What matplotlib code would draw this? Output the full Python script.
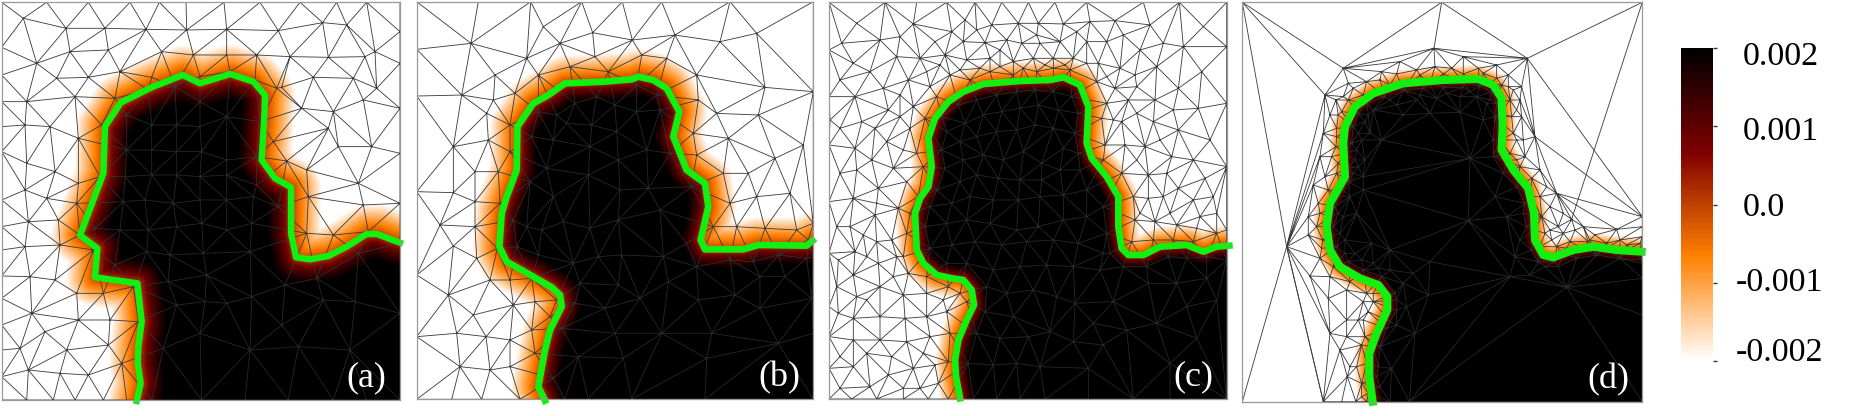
"""
  Four mesh panels with a level set field, contour and shared colour bar.
"""

import numpy as np
import matplotlib
matplotlib.use('Agg')
from matplotlib import pyplot as plt
from matplotlib import cm
from matplotlib.colors import LinearSegmentedColormap, Normalize
from matplotlib.path import Path
import matplotlib.tri as mtri

FIG_W = 1866
FIG_H = 416

CONTOUR_A = [(410,1203),(422,1150),(413,1090),(415,1040),(425,965),(412,850),(285,832),(292,745),(240,706),
             (295,560),(310,520),(315,380),(362,308),(455,262),(548,225),(600,250),(690,222),(760,245),
             (795,285),(793,350),(785,480),(825,535),(873,562),(873,700),(888,772),(930,778),(985,768),
             (1040,740),(1100,702),(1130,702),(1200,728)]
CONTOUR_B = [(405,1202),(385,1160),(405,1050),(420,990),(455,920),(450,885),(425,862),(370,830),(320,802),
             (290,785),(268,740),(275,640),(290,590),(320,510),(322,380),(370,310),(415,285),(465,250),
             (580,245),(665,238),(685,230),(730,240),(770,265),(808,335),(790,410),(830,510),(885,550),
             (895,620),(872,720),(885,748),(1000,748),(1045,735),(1190,737),(1208,722)]
CONTOUR_C = [(420,1195),(408,1130),(405,1080),(415,1020),(440,960),(462,915),(455,870),(430,840),(395,835),
             (350,825),(310,790),(290,750),(285,640),(300,595),(325,560),(335,500),(325,415),(345,355),
             (385,305),(430,275),(490,252),(600,243),(690,240),(730,232),(780,255),(805,320),(800,430),
             (815,475),(860,530),(895,590),(895,680),(905,745),(925,765),(970,765),(1020,740),(1100,735),
             (1150,755),(1190,740),(1228,737)]
CONTOUR_D = [(428,1205),(418,1130),(418,1060),(440,1000),(472,930),(472,890),(445,855),(390,835),(330,800),
             (300,750),(290,680),(300,610),(345,530),(340,430),(345,380),(375,320),(430,280),(520,250),
             (640,240),(745,237),(790,255),(815,295),(818,380),(815,450),(850,510),(895,565),(912,640),
             (915,720),(940,765),(970,772),(1030,750),(1090,740),(1160,750),(1235,755)]

NODES_A = [(5,7),(140,7),(265,7),(390,7),(478,7),(558,7),(672,7),(780,7),(900,7),(1010,7),(1100,7),(1200,7),
           (5,142),(5,225),(5,305),(5,380),(5,455),(5,600),(5,680),(5,750),(5,828),(5,895),(5,975),(5,1050),
           (5,1130),(5,1200),(1200,95),(1200,190),(1200,325),(1200,460),(1200,610),(1200,730),(1200,940),
           (1200,1200),(80,1200),(160,1200),(225,1200),(310,1200),(380,1200),(455,1200),(605,1200),(735,1200),
           (865,1200),(1000,1200),(1100,1200),
           (70,55),(198,85),(315,85),(438,88),(560,90),(680,88),(835,92),(968,68),(1040,75),(1125,155),
           (110,190),(210,155),(325,150),(485,155),(580,165),(680,165),(770,165),(870,170),(985,172),(1095,170),
           (170,235),(265,232),(360,215),(455,232),(600,230),(690,215),(765,240),(845,262),(940,232),(1060,235),
           (80,305),(225,290),(345,295),(445,270),(525,260),(830,265),(905,325),(1000,335),(1090,300),(1130,265),
           (1015,440),(985,385),(1115,440),(860,483),(820,425),(920,510),(1075,550),(925,590),(1090,615),
           (1000,705),(920,700),(1105,695),(75,375),(150,380),(235,415),(305,375),(80,490),(165,515),
           (235,550),(300,530),(140,595),(230,610),(75,570),(85,665),(175,660),(285,685),(75,740),(180,735),
           (240,705),(90,830),(165,840),(230,880),(280,750),(345,795),(440,755),(310,880),(400,860),(95,940),
           (135,995),(235,960),(330,960),(415,965),(60,1045),(200,1050),(325,1035),(85,1110),(180,1120),
           (265,1125),(365,1090),(380,345),(455,375),(530,375),(600,380),(680,350),(600,305),(780,365),
           (380,450),(455,450),(530,455),(605,455),(680,480),(770,470),(375,530),(455,525),(530,525),(600,530),
           (680,525),(770,555),(370,605),(435,600),(520,610),(600,600),(680,600),(760,590),(835,620),(360,690),
           (445,690),(530,680),(605,670),(680,690),(755,670),(505,845),(610,760),(750,755),(855,855),(950,835),
           (1075,760),(530,915),(615,905),(680,910),(755,890),(970,900),(1065,905),(845,975),(600,1000),
           (490,1045),(750,1050),(895,1040),(1050,1050),(510,765),(620,825)]

NODES_B = [(20,5),(205,5),(362,5),(515,5),(637,5),(755,5),(960,5),(1210,5),
           (20,148),(20,288),(20,575),(20,825),(20,1010),(20,1198),(1210,275),(1210,670),(1210,770),(1210,1000),
           (1210,1198),(125,1198),(215,1198),(330,1198),(465,1198),(535,1198),(665,1198),(885,1198),
           (183,130),(400,80),(548,98),(667,120),(795,105),(930,125),(1040,100),(350,175),(450,130),(555,170),
           (480,200),(595,215),(695,165),(770,175),(860,225),(1065,262),(255,225),(155,285),(315,280),(385,225),
           (250,300),(230,340),(300,375),(130,440),(235,420),(385,335),(440,345),(495,310),(560,290),(615,315),
           (680,255),(740,285),(750,330),(680,335),(620,395),(545,375),(470,370),(865,300),(920,340),
           (850,400),(955,415),(1095,475),(1045,345),(1180,435),(860,465),(940,520),(1015,520),(1140,580),(1040,590),
           (960,610),(910,680),(980,680),(1065,685),(1160,690),(1195,720),(300,455),(265,515),(195,515),(130,578),
           (195,605),(270,610),(90,675),(195,680),(130,738),(200,775),(262,745),(240,840),(300,840),(115,885),
           (365,835),(190,945),(310,915),(375,905),(440,900),(140,1000),(228,1010),(300,1020),(365,990),(420,950),
           (150,1100),(300,1100),(375,1060),(240,1110),(365,410),(430,420),(540,440),(625,480),(710,450),(780,460),
           (410,505),(535,525),(630,570),(715,565),(845,560),(360,545),(430,590),(310,660),(395,690),(460,665),
           (540,685),(625,660),(750,630),(830,730),(350,680),(320,740),(385,765),(490,790),(565,770),(635,765),
           (760,770),(860,800),(960,780),(1030,785),(1105,765),(1190,775),(510,850),(625,855),(775,845),(865,900),
           (975,885),(1050,830),(1125,830),(1205,895),(495,910),(585,925),(690,895),(1050,925),(455,985),(615,1000),
           (755,1000),(905,1000),(1105,1030),(505,1070),(890,1075),(430,1135),(640,1075)]

NODES_C = [(27,7),(195,7),(290,7),(380,7),(465,7),(545,7),(625,7),(705,7),(800,7),(970,7),(1078,7),(1220,7),
           (27,150),(27,290),(27,435),(27,605),(27,760),(27,920),(27,1010),(27,1105),(27,1197),
           (1220,140),(1220,310),(1220,500),(1220,690),(1220,780),(1220,1197),
           (95,1197),(170,1197),(250,1197),(325,1197),(385,1197),(460,1197),(530,1197),(600,1197),(675,1197),
           (805,1197),(940,1197),(1050,1197),
           (110,70),(280,72),(435,60),(515,75),(595,70),(655,70),(730,72),(810,65),(885,62),(990,75),(1090,140),
           (180,120),(345,125),(430,125),(495,128),(560,120),(605,130),(660,130),(720,125),(800,125),(860,125),(960,150),
           (100,190),(230,170),(300,175),(375,165),(440,180),(510,175),(580,185),(640,175),(700,175),(760,175),(835,190),
           (910,105),(900,205),(1010,200),(1145,215),(105,290),(190,265),(265,240),(330,260),(390,225),(450,240),
           (510,215),(580,225),(650,215),(700,205),(750,210),(800,190),(830,245),(885,265),(945,225),(1075,265),
           (30,360),(125,365),(205,330),(280,320),(350,290),(860,310),(925,300),(1005,300),(1135,325),
           (105,445),(200,425),(270,385),(315,355),(845,355),(905,365),(1000,365),(1075,390),(1170,420),
           (110,510),(220,505),(290,460),(310,500),(855,435),(915,435),(975,440),(1055,470),(1155,535),
           (100,595),(175,565),(260,545),(295,590),(850,480),(905,520),(985,525),(1075,565),(1180,590),
           (90,680),(165,645),(235,625),(270,640),(940,590),(985,595),(1050,640),(1140,650),(105,755),(170,725),
           (215,720),(260,700),(945,660),(1005,665),(1070,675),(1130,685),(1190,700),(100,825),(175,790),(250,770),
           (935,725),(1000,720),(1060,720),(1120,725),(110,890),(180,860),(265,820),(320,830),(50,860),
           (100,955),(180,950),(250,885),(320,880),(385,860),(420,880),(180,1020),(255,955),(320,950),(380,935),
           (440,905),(100,1020),(260,1025),(330,1010),(390,1000),(100,1100),(205,1125),(280,1105),(345,1095),
           (385,1085),(60,1165),(150,1160),(355,1150),
           (365,350),(415,315),(470,300),(530,285),(590,275),(645,270),(700,275),(755,290),(775,340),
           (380,395),(435,370),(490,345),(545,335),(600,325),(655,315),(715,330),(765,400),
           (365,450),(420,425),(470,410),(530,395),(590,390),(645,375),(700,385),(775,460),
           (375,505),(430,480),(490,465),(550,480),(610,455),(665,490),(730,445),(780,510),
           (350,570),(420,545),(470,525),(535,535),(600,540),(665,540),(720,510),(800,570),
           (330,620),(395,610),(450,590),(520,600),(595,600),(660,590),(730,585),(850,620),
           (315,680),(380,670),(440,660),(510,670),(590,690),(655,680),(730,660),(800,650),(860,700),
           (330,745),(395,735),(465,725),(545,735),(620,725),(700,720),(775,730),(850,760),
           (380,790),(440,790),(520,810),(600,800),(680,795),(760,800),(840,810),(910,800),(980,800),(1100,775),
           (500,860),(560,880),(640,870),(710,890),(765,910),(880,905),(985,850),(1070,850),(1160,835),
           (495,935),(580,950),(690,995),(625,1010),(820,970),(920,990),(1010,970),(1100,920),(1190,900),
           (470,1000),(540,1015),(760,1025),(850,1035),(1130,1015),(445,1090),(520,1095),(590,1090),(805,1105),
           (660,1100),(1050,1090),
           (65,130),(150,215),(60,240),(240,110),(395,95),(470,90),(540,150),(650,105),(770,95),(1030,130),(1150,80),
           (320,215),(360,195),(420,210),(480,205),(540,200),(610,205),(675,195),(735,195),(860,230),(950,260),
           (240,285),(165,385),(240,350),(60,385),(60,520),(155,480),(250,450),(170,610),(50,680),(130,705),
           (55,780),(140,770),(230,770),(55,940),(140,900),(220,830),(140,1060),(60,1070),(215,1070),(310,1060),
           (370,900),(250,1165),(300,1165),(880,360),(950,340),(1060,330),(950,480),(1020,420),(1120,480),(1040,520),
           (1120,600),(960,640),(1030,590),(1190,640),(870,760),(1045,770),(1160,770)]

NODES_D = [(280,1205),(335,1205),(378,1205),(410,1205),(480,1205),(538,1205),
           (1237,1205),(1237,650),(1237,680),(1237,710),(1237,790),(1237,835),(1237,945),
           (612,145),(892,175),(340,205),(285,285),(1025,658),(170,740),(240,828),(295,895),(352,1130),
           (510,185),(700,170),(800,195),(615,200),(410,245),(355,250),(455,215),(560,210),(665,205),(745,205),
           (835,225),(875,260),(915,410),(980,580),(1160,688),(1095,705),(1170,720),(1230,730),(1080,720),
           (318,300),(300,345),(280,400),(270,470),(250,555),(235,650),(235,705),(270,775),(300,830),
           (350,870),(400,905),(350,960),(300,1000),(350,1010),(385,960),(395,1035),(380,1100),(395,1150),
           (340,290),(325,345),(320,410),(305,470),(285,530),(265,610),(260,680),(275,745),(310,800),
           (360,845),(410,880),(430,905),(415,935),(430,880),(400,960),(405,1010),
           (370,265),(355,300),(335,335),(320,385),(318,440),(325,490),(320,520),(295,570),(270,640),(278,720),
           (450,240),(500,222),(570,225),(640,222),(700,222),(760,220),(800,235),(835,260),(840,300),(845,350),
           (850,400),(840,460),(870,500),(905,535),(930,590),(935,650),(945,700),(980,740),(1020,725),(1075,725),
           (1130,730),(1190,735),(960,690),(985,680),(965,720),(1000,700),(1035,690),
           (870,300),(875,350),(880,420),(885,470),(930,510),(950,560),(960,620),(1000,640),(1060,680),
           (410,310),(385,340),(370,380),(365,430),(375,480),(370,520),(340,570),(315,620),(310,680),(320,740),
           (355,785),(400,810),(455,830),(495,880),(500,930),(470,985),(450,1040),(445,1100),(450,1160),
           (465,290),(520,270),(580,265),(640,262),(700,262),(750,258),(785,275),(800,310),(795,350),(790,420),
           (790,470),(820,520),(860,560),(885,610),(890,680),(905,750),(945,800),(985,800),(1040,775),(1100,765),
           (1170,775),(1235,780),(430,330),(405,365),(395,420),(405,480),(400,530),(360,590),(340,650),(345,720),
           (375,760),(430,790),(480,810),(520,850),(530,920),(500,975),(555,1000),(485,1105),
           (500,315),(560,300),(620,295),(690,290),(740,290),(770,310),(760,360),(690,337),(600,340),(520,345),
           (420,400),(455,420),(400,570),(380,640),(425,730),(720,475),(795,590),(715,662),(840,830),(830,650),
           (870,720),(855,770),(900,825),(1010,862),(600,785),(550,820),(595,885),(480,750),(410,1090),
           (345,460),(350,505),(325,590),(300,650),(345,760),(395,780),(445,805),(500,900),(480,965),(430,1040),
           (440,1130),(415,1180),(395,1190),(360,1100),(330,1050),(815,255),(780,250),(700,245),(600,250),(480,255),
           (400,285),(850,270),(860,330),(860,420),(860,480),(905,590),(915,690),(930,740),(1000,760),(1060,745),
           (1130,745),(1200,745),(1010,745),(975,785),(925,785),(880,640),(830,480),(810,420),(810,340),(780,300),
           (720,275),(650,280),(570,285),(480,300),(415,345),(385,400),(380,450),(385,500),(355,545),(325,640),(330,700)]

OUTER_EDGES_D = [((37,7),(340,205)),((37,7),(285,285)),((37,7),(170,740)),((37,7),(37,1205)),
                 ((170,740),(37,1205)),((170,740),(280,1205)),((37,1205),(280,1205)),((37,7),(635,7)),
                 ((635,7),(340,205)),((635,7),(612,145)),((635,7),(892,175)),((635,7),(1237,7)),
                 ((892,175),(1237,7)),((1237,7),(1025,658)),((1237,7),(1237,650))]

PANEL_BOXES = [(1.7, 2.3, 400.0, 400.0), (416.7, 1.7, 813.3, 399.3),
               (829.0, 2.3, 1226.7, 399.0), (1242.3, 2.3, 1642.3, 401.7)]
PANEL_LIMS = [(5, 1200, 7, 1200), (20, 1210, 5, 1198), (27, 1220, 7, 1197), (37, 1237, 7, 1205)]
PANEL_LABELS = ['(a)', '(b)', '(c)', '(d)']
BAND_OUTER = [90, 85, 62, 44]
BAND_INNER = [75, 60, 42, 34]
CONTOUR_WIDTHS = [4.6, 4.8, 4.8, 5.8]

CBAR_TICKS = [0.002, 0.001, 0.0, -0.001, -0.002]
CBAR_LABELS = ['0.002', '0.001', '0.0', '-0.001', '-0.002']
CBAR_LABEL_X = [1743, 1743, 1743, 1736, 1736]
CBAR_LABEL_Y = [57, 132, 208, 283, 353]
CBAR_STOPS = [(0.0, '#ffffff'), (0.335, '#ff8000'), (0.665, '#800000'), (1.0, '#000000')]


def signed_distance(points, contour):
    """
        Distance of each point to the contour, positive on the dark side
    """
    line = np.asarray(contour, dtype=float)
    start = line[:-1]
    seg = line[1:] - start
    dist = np.full(len(points), np.inf)
    for s, v in zip(start, seg):
        t = np.clip(((points - s) @ v) / (v @ v), 0, 1)
        d = np.hypot(*(points - s - t[:, None] * v).T)
        dist = np.minimum(dist, d)
    closed = np.vstack([line, [1500, line[-1][1]], [1500, 1500], [line[0][0], 1500]])
    inside = Path(closed).contains_points(points)
    return np.where(inside, dist, -dist)


def add_box(fig, box):
    x0, y0, x1, y1 = box
    return fig.add_axes([x0 / FIG_W, 1 - y1 / FIG_H, (x1 - x0) / FIG_W, (y1 - y0) / FIG_H])


def draw_panel(fig, i, nodes, contour, cmap):
    lims = PANEL_LIMS[i]
    axis = add_box(fig, PANEL_BOXES[i])
    nodes = sorted(set(nodes))
    tri = mtri.Triangulation([p[0] for p in nodes], [p[1] for p in nodes])
    extent = (lims[0], lims[1], lims[3], lims[2])

    grid_x, grid_y = np.meshgrid(np.arange(lims[0], lims[1] + 1, 2.0), np.arange(lims[2], lims[3] + 1, 2.0))
    dist = signed_distance(np.column_stack([grid_x.ravel(), grid_y.ravel()]), contour).reshape(grid_x.shape)
    field = np.clip(np.where(dist < 0, dist / BAND_OUTER[i], dist / BAND_INNER[i]), -1, 1)
    axis.imshow(field * 0.002, extent=extent, cmap=cmap, vmin=-0.002, vmax=0.002,
                interpolation='bilinear', aspect='auto', zorder=1)

    axis.triplot(tri, color='#3c3c3c', lw=0.62, zorder=2)
    if PANEL_LABELS[i] == '(d)':
        for p, q in OUTER_EDGES_D:
            axis.plot([p[0], q[0]], [p[1], q[1]], color='#3c3c3c', lw=0.62, zorder=2)

    # dims the mesh lines over the black part of the field
    shade = np.zeros(field.shape + (4,))
    shade[..., 3] = 0.35 * np.clip(field, 0, 1)
    axis.imshow(shade, extent=extent, interpolation='bilinear', aspect='auto', zorder=2.5)

    axis.plot([p[0] for p in contour], [p[1] for p in contour], color='#12f012', lw=CONTOUR_WIDTHS[i],
              solid_joinstyle='round', clip_on=False, zorder=3)
    axis.set_xlim(lims[0], lims[1])
    axis.set_ylim(lims[3], lims[2])
    axis.set_xticks([])
    axis.set_yticks([])
    for spine in axis.spines.values():
        spine.set_color('#999999')
        spine.set_linewidth(0.9)
        spine.set_zorder(4)
    axis.text(0.915, 0.055, PANEL_LABELS[i], transform=axis.transAxes, color='white', ha='center', va='center',
              family='Liberation Serif', fontsize=26, zorder=5)


def main():
    fig = plt.figure(figsize=(FIG_W / 100, FIG_H / 100), dpi=100)
    cmap = LinearSegmentedColormap.from_list('level', CBAR_STOPS, N=256)
    all_nodes = [NODES_A, NODES_B, NODES_C, NODES_D]
    contours = [CONTOUR_A, CONTOUR_B, CONTOUR_C, CONTOUR_D]
    for i in range(4):
        draw_panel(fig, i, all_nodes[i], contours[i], cmap)

    cax = add_box(fig, (1681, 48, 1713, 361))
    cbar = fig.colorbar(cm.ScalarMappable(Normalize(-0.002, 0.002), cmap), cax=cax)
    cbar.set_ticks(CBAR_TICKS, labels=[''] * len(CBAR_TICKS))
    cbar.outline.set_visible(False)
    cax.tick_params(length=3, width=1, color='#333333')
    for text, x, y in zip(CBAR_LABELS, CBAR_LABEL_X, CBAR_LABEL_Y):
        fig.text(x / FIG_W, 1 - y / FIG_H, text, ha='left', va='center', family='Liberation Serif', fontsize=24.5)
    fig.savefig('out.png', dpi=100)


main()
